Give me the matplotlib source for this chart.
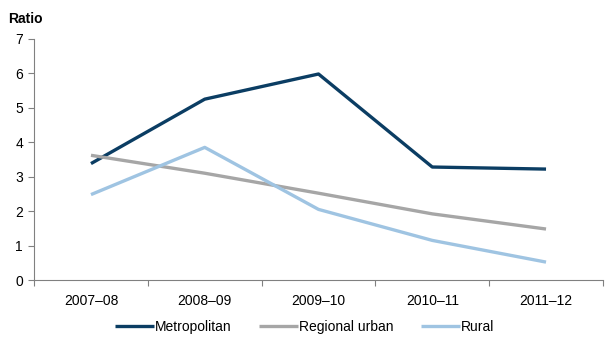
import matplotlib
matplotlib.use("Agg")
import matplotlib.pyplot as plt
import numpy as np

plt.rcParams['font.family'] = ['Liberation Sans', 'DejaVu Sans']

categories = ["2007–08", "2008–09", "2009–10", "2010–11", "2011–12"]
metropolitan = [3.38, 5.25, 5.98, 3.28, 3.22]
regional_urban = [3.62, 3.10, 2.52, 1.92, 1.48]
rural = [2.48, 3.85, 2.05, 1.15, 0.52]

fig = plt.figure(figsize=(6.09, 3.44), dpi=100)
ax = fig.add_axes([0.056, 0.186, 0.934, 0.701])

x = np.arange(len(categories))
ax.plot(x, metropolitan, color="#0b3d63", lw=2.4, label="Metropolitan", solid_capstyle="butt")
ax.plot(x, regional_urban, color="#a6a6a6", lw=2.4, label="Regional urban", solid_capstyle="butt")
ax.plot(x, rural, color="#9fc4e2", lw=2.4, label="Rural", solid_capstyle="butt")

ax.set_xlim(-0.5, len(categories) - 0.5)
ax.set_ylim(0, 7)
ax.set_yticks(range(0, 8))
ax.set_xticks(x)
ax.set_xticklabels(categories)
ax.set_xticks(np.arange(-0.5, len(categories), 1), minor=True)
ax.tick_params(axis='x', which='major', length=0, pad=10, labelsize=10)
ax.tick_params(axis='x', which='minor', length=4, color="#808080", width=0.8)
ax.tick_params(axis='y', length=4, color="#808080", width=0.8, labelsize=10, pad=4)

for s in ["top", "right"]:
    ax.spines[s].set_visible(False)
for s in ["left", "bottom"]:
    ax.spines[s].set_color("#808080")
    ax.spines[s].set_linewidth(0.8)

fig.text(0.013, 0.945, "Ratio", fontsize=10, fontweight="bold", ha="left", va="center")

leg = fig.legend(loc="center", bbox_to_anchor=(0.5, 0.05), ncol=3, frameon=False,
                 fontsize=10, handlelength=2.8, handletextpad=0.05, columnspacing=2.0)

fig.savefig("out.png", dpi=100)
